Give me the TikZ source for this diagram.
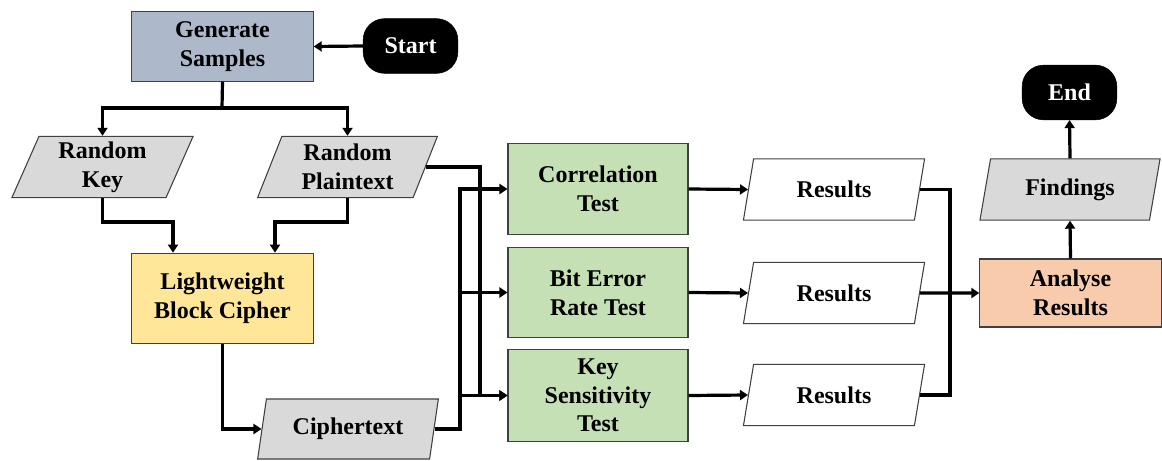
\documentclass[tikz,border=0pt]{standalone}
\usepackage{fontspec}
\setmainfont{Liberation Serif}
\usetikzlibrary{shapes.geometric,arrows.meta,calc}
\definecolor{genfill}{HTML}{ADB9CA}
\definecolor{cipherfill}{HTML}{FFE699}
\definecolor{testfill}{HTML}{C5E0B4}
\definecolor{anafill}{HTML}{F8CBAD}
\definecolor{datafill}{HTML}{D9D9D9}
\definecolor{edge}{HTML}{404040}
\tikzset{
  lbl/.style={font=\fontsize{18pt}{21.5pt}\selectfont\bfseries, align=center},
  procbox/.style={lbl, draw=edge, line width=0.8pt, rectangle, inner sep=2pt},
  term/.style={lbl, fill=black, draw=black, text=white, rectangle,
    rounded corners=16pt, minimum width=71pt, minimum height=41pt, inner sep=2pt},
  databox/.style={lbl, draw=edge, line width=0.8pt, trapezium,
    trapezium stretches=true, minimum width=136pt, minimum height=46pt, inner sep=1pt},
  steep/.style={trapezium left angle=70, trapezium right angle=110},
  mild/.style={trapezium left angle=76, trapezium right angle=104},
  link/.style={draw=black, line width=2.4pt},
  arr/.style={link, -{Triangle[length=6pt,width=7.5pt]}}
}
\begin{document}
\begin{tikzpicture}[x=0.75pt, y=-0.75pt]
\useasboundingbox[fill=white] (0,0) rectangle (1162,460);

% process boxes
\node[procbox, fill=genfill, minimum width=136pt, minimum height=52pt] (gen) at (222.5,46.5) {Generate\\Samples};
\node[procbox, fill=cipherfill, minimum width=136pt, minimum height=68pt] (lbc) at (222.5,298.5) {Lightweight\\Block Cipher};
\node[procbox, fill=testfill, minimum width=135pt, minimum height=68pt] (cor) at (598,189) {Correlation\\Test};
\node[procbox, fill=testfill, minimum width=135pt, minimum height=68pt] (ber) at (598,292.5) {Bit Error\\Rate Test};
\node[procbox, fill=testfill, minimum width=135pt, minimum height=69pt] (ks) at (598,395.5) {Key\\Sensitivity\\Test};
\node[procbox, fill=anafill, minimum width=136pt, minimum height=51pt] (an) at (1070.5,293) {Analyse\\Results};

% terminals
\node[term] (start) at (410.5,46) {Start};
\node[term] (end) at (1069.5,92.5) {End};

% data (parallelograms)
\node[databox, steep, fill=datafill] (rk) at (102.5,167) {Random\\Key};
\node[databox, steep, fill=datafill] (rp) at (347.5,167) {Random\\Plaintext};
\node[databox, mild, fill=datafill, minimum height=45pt] (ct) at (348,429) {Ciphertext};
\node[databox, mild, fill=white] (r1) at (834,189.5) {Results};
\node[databox, mild, fill=white] (r2) at (834,293) {Results};
\node[databox, mild, fill=white] (r3) at (834,395) {Results};
\node[databox, mild, fill=datafill] (fi) at (1070,189.5) {Findings};

% routing points
\coordinate (split) at (222,108);
\coordinate (kdrop) at (173,222);
\coordinate (pdrop) at (275,222);
\coordinate (busA) at (480,0);
\coordinate (busB) at (460,0);
\coordinate (busC) at (950,0);

% connectors
\draw[arr] (start.west) -- (gen.east);
\draw[link] (gen.south) -- (split);
\draw[arr] (split) -| (rk.north);
\draw[arr] (split) -| (rp.north);
\draw[arr] (rk.south) |- (kdrop) -- (kdrop |- lbc.north);
\draw[arr] (rp.south) |- (pdrop) -- (pdrop |- lbc.north);
\draw[arr] (lbc.south) |- (ct.west);

\draw[arr] (rp.east) -| (busA |- ks.west) -- (ks.west);
\draw[arr] (ct.east) -| (busB |- cor.west) -- (cor.west);
\draw[arr] (busB |- ber.west) -- (ber.west);
\draw[arr] (busB |- ks.west) -- (ks.west);

\draw[arr] (cor.east) -- (r1.west);
\draw[arr] (ber.east) -- (r2.west);
\draw[arr] (ks.east) -- (r3.west);

\draw[link] (r1.east) -| (busC |- r3.east) -- (r3.east);
\draw[arr] (r2.east) -- (an.west);
\draw[arr] (an.north) -- (fi.south);
\draw[arr] (fi.north) -- (end.south);
\end{tikzpicture}
\end{document}
